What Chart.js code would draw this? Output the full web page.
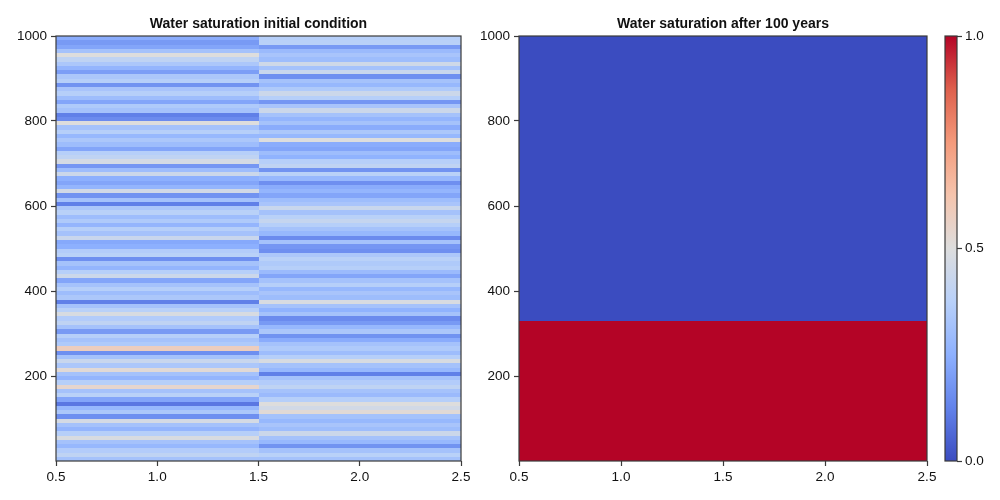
<!DOCTYPE html>
<html>
<head>
<meta charset="utf-8">
<script src="https://cdn.jsdelivr.net/npm/chart.js@4.4.1/dist/chart.umd.min.js"></script>
<style>
  html,body{margin:0;padding:0;background:#fff;}
  #wrap{position:relative;width:1000px;height:500px;}
  #wrap canvas{position:absolute;left:0;top:0;}
</style>
</head>
<body>
<div id="wrap">
  <canvas id="left" width="1000" height="500"></canvas>
  <canvas id="right" width="1000" height="500"></canvas>
  <canvas id="cbar" width="1000" height="500"></canvas>
</div>
<script>
// grid: two columns in x, 100 rows of 10 in depth
const colEdges = [0.5, 1.5, 2.5];
const rowSize = 10;
const nRows = 100;
const xTicks = [0.5, 1.0, 1.5, 2.0, 2.5];
const yTicks = [200, 400, 600, 800, 1000];
const cbarTicks = [0.0, 0.5, 1.0];

// initial water saturation, rows listed from top (990-1000) down to bottom (0-10)
const initCol1 = [
  0.24,0.19,0.22,0.32,0.50,0.40,0.34,0.27,0.20,0.34,
  0.37,0.17,0.33,0.37,0.30,0.22,0.35,0.32,0.12,0.15,
  0.50,0.32,0.37,0.28,0.34,0.30,0.22,0.37,0.40,0.47,
  0.18,0.30,0.44,0.25,0.22,0.27,0.46,0.17,0.32,0.12,
  0.34,0.38,0.30,0.35,0.27,0.37,0.32,0.43,0.23,0.25,
  0.36,0.38,0.16,0.32,0.27,0.37,0.44,0.22,0.32,0.37,
  0.30,0.34,0.12,0.32,0.38,0.48,0.36,0.40,0.32,0.19,
  0.37,0.32,0.35,0.58,0.16,0.32,0.43,0.34,0.52,0.32,
  0.27,0.37,0.54,0.32,0.38,0.22,0.10,0.28,0.34,0.16,
  0.47,0.32,0.27,0.37,0.48,0.32,0.28,0.36,0.40,0.32
];
const initCol2 = [
  0.37,0.38,0.19,0.29,0.33,0.30,0.45,0.32,0.43,0.16,
  0.32,0.28,0.35,0.44,0.37,0.18,0.33,0.44,0.32,0.27,
  0.32,0.24,0.34,0.28,0.50,0.24,0.22,0.30,0.26,0.37,
  0.40,0.17,0.38,0.28,0.16,0.24,0.27,0.22,0.30,0.33,
  0.43,0.32,0.38,0.42,0.37,0.32,0.28,0.15,0.32,0.18,
  0.16,0.34,0.38,0.35,0.37,0.29,0.22,0.32,0.37,0.28,
  0.33,0.30,0.48,0.32,0.26,0.32,0.15,0.19,0.28,0.34,
  0.17,0.24,0.32,0.35,0.30,0.37,0.48,0.32,0.28,0.12,
  0.32,0.36,0.40,0.32,0.29,0.37,0.50,0.46,0.52,0.32,
  0.28,0.33,0.30,0.44,0.32,0.28,0.17,0.32,0.38,0.32
];

// water saturation after 100 years, same row order
const finalCol1 = [
  0,0,0,0,0,0,0,0,0,0, 0,0,0,0,0,0,0,0,0,0,
  0,0,0,0,0,0,0,0,0,0, 0,0,0,0,0,0,0,0,0,0,
  0,0,0,0,0,0,0,0,0,0, 0,0,0,0,0,0,0,0,0,0,
  0,0,0,0,0,0,0,1,1,1, 1,1,1,1,1,1,1,1,1,1,
  1,1,1,1,1,1,1,1,1,1, 1,1,1,1,1,1,1,1,1,1
];
const finalCol2 = [
  0,0,0,0,0,0,0,0,0,0, 0,0,0,0,0,0,0,0,0,0,
  0,0,0,0,0,0,0,0,0,0, 0,0,0,0,0,0,0,0,0,0,
  0,0,0,0,0,0,0,0,0,0, 0,0,0,0,0,0,0,0,0,0,
  0,0,0,0,0,0,0,1,1,1, 1,1,1,1,1,1,1,1,1,1,
  1,1,1,1,1,1,1,1,1,1, 1,1,1,1,1,1,1,1,1,1
];

// coolwarm colour map stops
const cmapStops = [
  [0.0,   [59,76,192]],
  [0.125, [98,130,234]],
  [0.25,  [141,176,254]],
  [0.375, [184,208,249]],
  [0.5,   [221,221,221]],
  [0.625, [245,196,173]],
  [0.75,  [244,154,123]],
  [0.875, [222,96,77]],
  [1.0,   [180,4,38]]
];

function cmap(v){
  v = Math.max(0, Math.min(1, v));
  for(let i=1;i<cmapStops.length;i++){
    const [p1,c1] = cmapStops[i-1], [p2,c2] = cmapStops[i];
    if(v<=p2){
      const t = (v-p1)/(p2-p1);
      const c = c1.map((a,k)=>Math.round(a+(c2[k]-a)*t));
      return `rgb(${c[0]},${c[1]},${c[2]})`;
    }
  }
  return 'rgb(180,4,38)';
}

const FONT = '"Liberation Sans", Arial, sans-serif';
const frameColor = '#3a3a3a';

// draw the cells through the chart scales
function heatmapPlugin(columns){
  return {
    id:'heatmap',
    beforeDatasetsDraw(chart){
      const {ctx, chartArea:a, scales:{x,y}} = chart;
      ctx.save();
      ctx.beginPath(); ctx.rect(a.left,a.top,a.right-a.left,a.bottom-a.top); ctx.clip();
      columns.forEach((col,c)=>{
        const x0 = Math.round(x.getPixelForValue(colEdges[c]));
        const x1 = Math.round(x.getPixelForValue(colEdges[c+1]));
        col.forEach((v,i)=>{
          const top = (nRows - i) * rowSize, bot = top - rowSize;
          const y0 = Math.round(y.getPixelForValue(top));
          const y1 = Math.round(y.getPixelForValue(bot));
          ctx.fillStyle = cmap(v);
          ctx.fillRect(x0, y0, x1-x0, y1-y0);
        });
      });
      ctx.restore();
    }
  };
}

const framePlugin = {
  id:'frame',
  afterDatasetsDraw(chart){
    const {ctx, chartArea:a} = chart;
    ctx.save();
    ctx.strokeStyle = frameColor; ctx.lineWidth = 1.2;
    ctx.strokeRect(a.left, a.top, a.right-a.left, a.bottom-a.top);
    ctx.restore();
  }
};

const tickFont = {family: FONT, size: 13.5};

function axes(yWidth){
  return {
    x:{
      type:'linear', min:0.5, max:2.5,
      afterBuildTicks: s=>{ s.ticks = xTicks.map(v=>({value:v})); },
      afterFit: s=>{ s.height = 39; },
      ticks:{ callback:v=>v.toFixed(1), font:tickFont, color:'#111', padding:3, maxRotation:0 },
      grid:{ drawOnChartArea:false, drawTicks:true, tickLength:5, color:frameColor, tickWidth:1.2 },
      border:{ display:false }
    },
    y:{
      type:'linear', min:0, max:1000,
      afterBuildTicks: s=>{ s.ticks = yTicks.map(v=>({value:v})); },
      afterFit: s=>{ s.width = yWidth; },
      ticks:{ callback:v=>String(v), font:tickFont, color:'#111', padding:4 },
      grid:{ drawOnChartArea:false, drawTicks:true, tickLength:5, color:frameColor, tickWidth:1.2 },
      border:{ display:false }
    }
  };
}

function titleOpts(text){
  return {
    display:true, text, fullSize:false, color:'#111',
    font:{family:FONT, size:14, weight:'bold'},
    padding:{top:15.6, bottom:3.6}
  };
}

new Chart(document.getElementById('left'), {
  type:'scatter',
  data:{ datasets:[] },
  options:{
    responsive:false, animation:false, events:[],
    layout:{ padding:{ left:0, right:539, top:0, bottom:0 } },
    plugins:{ legend:{display:false}, tooltip:{enabled:false}, title:titleOpts('Water saturation initial condition') },
    scales: axes(56)
  },
  plugins:[heatmapPlugin([initCol1, initCol2]), framePlugin]
});

new Chart(document.getElementById('right'), {
  type:'scatter',
  data:{ datasets:[] },
  options:{
    responsive:false, animation:false, events:[],
    layout:{ padding:{ left:469, right:73, top:0, bottom:0 } },
    plugins:{ legend:{display:false}, tooltip:{enabled:false}, title:titleOpts('Water saturation after 100 years') },
    scales: axes(50)
  },
  plugins:[heatmapPlugin([finalCol1, finalCol2]), framePlugin]
});

// colour bar
new Chart(document.getElementById('cbar'), {
  type:'scatter',
  data:{ datasets:[] },
  options:{
    responsive:false, animation:false, events:[],
    layout:{ padding:{ left:945, right:0, top:36, bottom:39 } },
    plugins:{ legend:{display:false}, tooltip:{enabled:false} },
    scales:{
      x:{ display:false, min:0, max:1 },
      y:{
        type:'linear', position:'right', min:0, max:1,
        afterBuildTicks: s=>{ s.ticks = cbarTicks.map(v=>({value:v})); },
        afterFit: s=>{ s.width = 43; },
        ticks:{ callback:v=>v.toFixed(1), font:tickFont, color:'#111', padding:3 },
        grid:{ drawOnChartArea:false, drawTicks:true, tickLength:5, color:frameColor, tickWidth:1.2 },
        border:{ display:false }
      }
    }
  },
  plugins:[{
    id:'gradient',
    beforeDatasetsDraw(chart){
      const {ctx, chartArea:a, scales:{y}} = chart;
      const g = ctx.createLinearGradient(0, y.getPixelForValue(0), 0, y.getPixelForValue(1));
      cmapStops.forEach(([p,c])=>g.addColorStop(p, `rgb(${c[0]},${c[1]},${c[2]})`));
      ctx.save();
      ctx.fillStyle = g;
      ctx.fillRect(a.left, a.top, a.right-a.left, a.bottom-a.top);
      ctx.restore();
    }
  }, framePlugin]
});
</script>
</body>
</html>
